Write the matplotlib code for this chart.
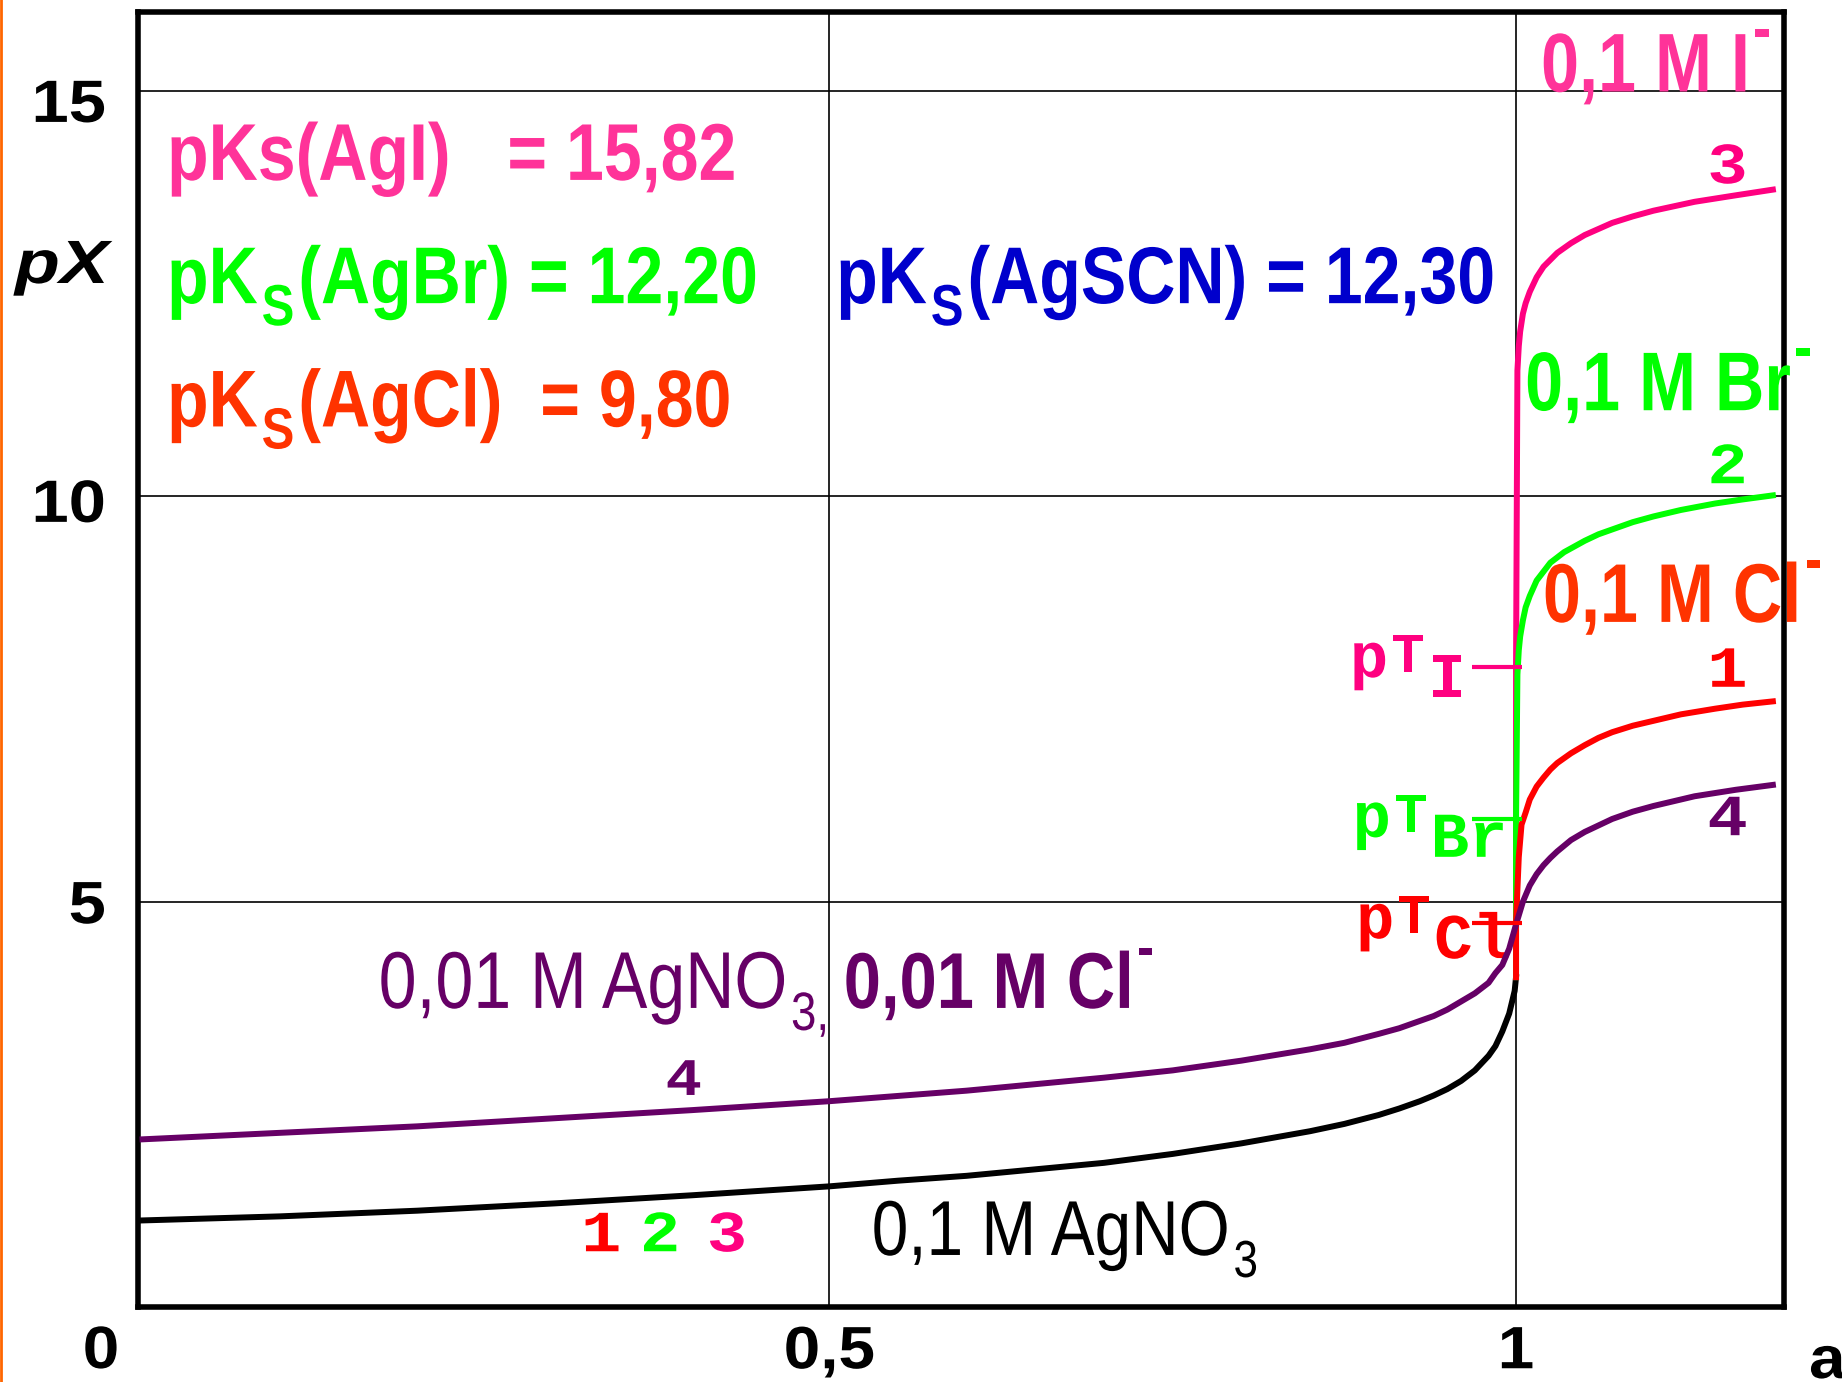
import matplotlib
matplotlib.use("Agg")
import matplotlib.pyplot as plt
from matplotlib.lines import Line2D
from matplotlib.patheffects import AbstractPathEffect
from matplotlib.text import Text
from matplotlib.transforms import Affine2D, Bbox, ScaledTranslation, offset_copy

# titration degree a and pX
a_black = [0.0, 0.1, 0.2, 0.3, 0.4, 0.5, 0.55, 0.6, 0.65, 0.7, 0.75, 0.8, 0.85, 0.875, 0.9, 0.915, 0.93, 0.94,
           0.95, 0.96, 0.97, 0.98, 0.985, 0.99, 0.995, 0.999, 1.0]
pX_black = [1.07, 1.12, 1.19, 1.28, 1.38, 1.49, 1.56, 1.62, 1.70, 1.78, 1.89, 2.02, 2.17, 2.26, 2.37, 2.45, 2.54, 2.61,
            2.69, 2.79, 2.92, 3.10, 3.22, 3.40, 3.62, 3.90, 4.07]

a_purple = [0.0, 0.1, 0.2, 0.3, 0.4, 0.5, 0.6, 0.65, 0.7, 0.75, 0.8, 0.85, 0.875, 0.9, 0.915, 0.93, 0.94, 0.95,
            0.96, 0.97, 0.98, 0.985, 0.99, 0.995, 1.0, 1.005, 1.01, 1.015, 1.02, 1.025, 1.03, 1.04, 1.05, 1.07,
            1.085, 1.1, 1.13, 1.16, 1.187]
pX_purple = [2.07, 2.15, 2.23, 2.33, 2.43, 2.54, 2.67, 2.75, 2.83, 2.92, 3.04, 3.18, 3.26, 3.37, 3.44, 3.53, 3.59, 3.67,
             3.77, 3.87, 4.00, 4.12, 4.22, 4.42, 4.72, 5.00, 5.20, 5.34, 5.45, 5.54, 5.62, 5.76, 5.86, 6.02,
             6.11, 6.18, 6.30, 6.38, 6.44]

a_red = [1.0, 1.0, 1.002, 1.004, 1.007, 1.01, 1.015, 1.02, 1.025, 1.03, 1.04, 1.05, 1.06, 1.07, 1.085, 1.1,
         1.12, 1.145, 1.165, 1.187]
pX_red = [4.07, 4.75, 5.55, 5.95, 6.10, 6.26, 6.42, 6.53, 6.63, 6.71, 6.83, 6.93, 7.02, 7.09, 7.17, 7.23,
          7.31, 7.38, 7.43, 7.47]

a_green = [1.0, 1.0, 1.001, 1.002, 1.003, 1.005, 1.007, 1.01, 1.015, 1.02, 1.025, 1.035, 1.05, 1.06, 1.07,
           1.085, 1.1, 1.12, 1.145, 1.165, 1.187]
pX_green = [4.07, 6.02, 7.80, 8.10, 8.27, 8.47, 8.63, 8.77, 8.96, 9.07, 9.18, 9.31, 9.45, 9.53, 9.59,
            9.68, 9.75, 9.83, 9.91, 9.96, 10.01]

a_pink = [1.0, 1.0, 1.001, 1.002, 1.003, 1.005, 1.007, 1.01, 1.015, 1.02, 1.03, 1.04, 1.05, 1.07, 1.085,
          1.1, 1.13, 1.16, 1.187]
pX_pink = [4.07, 7.89, 11.55, 11.85, 12.03, 12.25, 12.38, 12.52, 12.70, 12.83, 13.00, 13.12, 13.22, 13.37, 13.45,
           13.52, 13.63, 13.71, 13.78]

pT_names = ["I", "Br", "Cl"]
pT_values = [7.89, 6.02, 4.74]

yticks = [5, 10, 15]
ytick_labels = ["5", "10", "15"]
xticks = [0.5, 1.0]
xtick_labels = ["0,5", "1"]

PINK_TXT = "#FF3399"
PINK = "#FF0080"
GREEN = "#00FF00"
RED = "#FF0000"
RED_TXT = "#FF3300"
PURPLE = "#660066"
BLUE = "#0000CC"

SANS = ["Liberation Sans", "DejaVu Sans"]
MONO = ["Liberation Mono", "DejaVu Sans Mono"]
NARROW_X = 0.845  # no narrow face installed: squeeze the regular one


class Squeeze(AbstractPathEffect):
    """Scale the glyph outlines horizontally around the left, centre or right end."""

    def __init__(self, sx, anchor="left"):
        super().__init__()
        self.sx = sx
        self.anchor = anchor

    def draw_path(self, renderer, gc, tpath, affine, rgbFace=None):
        ext = tpath.get_extents()
        xa = {"left": 0.0, "center": (ext.x0 + ext.x1) / 2, "right": ext.x1}[self.anchor]
        pre = Affine2D().translate(-xa, 0).scale(self.sx, 1).translate(xa, 0)
        renderer.draw_path(gc, tpath, pre + affine, rgbFace)


class NarrowText(Text):
    """Text drawn squeezed, reporting the squeezed box."""

    def __init__(self, x, y, s, sx=1.0, anchor="left", **kw):
        super().__init__(x, y, s, **kw)
        self.sx = sx
        self.anchor = anchor
        self.set_path_effects([Squeeze(sx, anchor)])

    def get_window_extent(self, renderer=None, dpi=None):
        bb = super().get_window_extent(renderer, dpi)
        w = bb.width * self.sx
        if self.anchor == "left":
            x0 = bb.x0
        elif self.anchor == "right":
            x0 = bb.x1 - w
        else:
            x0 = (bb.x0 + bb.x1) / 2 - w / 2
        return Bbox.from_bounds(x0, bb.y0, w, bb.height)


W, H = 1842, 1382
fig = plt.figure(figsize=(W / 100, H / 100), dpi=100)
ax = fig.add_axes([137.5 / W, 1 - 1307.2 / H, (1784 - 137.5) / W, (1307.2 - 11.7) / H])
ax.set_xlim(-0.0037, 1.1951)
ax.set_ylim(0, 15.974)

for s in ax.spines.values():
    s.set_linewidth(4)
ax.set_axisbelow(True)
ax.grid(True, color="black", lw=1.2)
ax.set_xticks(xticks, xtick_labels)
ax.set_yticks(yticks, ytick_labels)
ax.tick_params(length=0, labelsize=43)
ax.tick_params(axis="y", pad=23)
ax.tick_params(axis="x", pad=13)
for lab, drop in zip(ax.get_yticklabels(), [0, 3, 7]):
    lab.set_family(SANS)
    lab.set_weight("bold")
    lab.set_path_effects([Squeeze(1.12, "right")])
    lab.set_transform(lab.get_transform() + ScaledTranslation(0, -drop / 72, fig.dpi_scale_trans))
for lab in ax.get_xticklabels():
    lab.set_family(SANS)
    lab.set_weight("bold")
    lab.set_path_effects([Squeeze(1.1, "center")])

kw = dict(lw=4.3, solid_joinstyle="round")
ax.plot(a_black, pX_black, color="black", zorder=3, **kw)
ax.plot(a_pink, pX_pink, color=PINK, zorder=3.1, **kw)
ax.plot(a_green, pX_green, color=GREEN, zorder=3.2, **kw)
ax.plot(a_red, pX_red, color=RED, zorder=3.3, **kw)
ax.plot(a_purple, pX_purple, color=PURPLE, zorder=3.4, **kw)

pT_colors = [PINK, GREEN, RED]
ax.hlines(pT_values, 0.968, 1.004, colors=pT_colors, lw=3, zorder=3.5)

renderer = fig.canvas.get_renderer()


def put(x, y, s, host=ax, transform=None, sx=1.0, anchor="left", **kw):
    t = NarrowText(x, y, s, sx=sx, anchor=anchor,
                   transform=transform if transform is not None else host.transData, **kw)
    host.add_artist(t)
    t.set_clip_on(False)
    return t


def rich(x, y, pieces, size, color, family, weight="bold", sx=NARROW_X, gap=4, z=2.8):
    dx = 0.0
    for s, k, dy in pieces:
        tr = offset_copy(ax.transData, fig=fig, x=dx, y=dy, units="dots")
        t = put(x, y, s, transform=tr, sx=sx, ha="left", va="baseline", fontsize=size * k,
                family=family, weight=weight, color=color, zorder=z)
        dx += t.get_window_extent(renderer).width + gap


# solubility products
rich(0.0178, 13.90, [("pKs(AgI)   = 15,82", 1, 0)], 58, PINK_TXT, SANS)
rich(0.0178, 12.38, [("pK", 1, 0), ("S", 0.72, -22), ("(AgBr) = 12,20", 1, 0)], 58, GREEN, SANS)
rich(0.0178, 10.86, [("pK", 1, 0), ("S", 0.72, -22), ("(AgCl)  = 9,80", 1, 0)], 58, RED_TXT, SANS)
rich(0.505, 12.38, [("pK", 1, 0), ("S", 0.72, -22), ("(AgSCN) = 12,30", 1, 0)], 58, BLUE, SANS)

# concentrations
rich(1.0182, 14.99, [("0,1 M I", 1, 0), ("-", 0.8, 41)], 60, PINK_TXT, SANS, sx=0.82, gap=3)
rich(1.0066, 11.06, [("0,1 M Br", 1, 0), ("-", 0.8, 41)], 60, GREEN, SANS, sx=0.82, gap=3)
rich(1.0196, 8.45, [("0,1 M Cl", 1, 0), ("-", 0.8, 41)], 60, RED_TXT, SANS, sx=0.82, gap=3)
rich(0.1719, 3.69, [("0,01 M AgNO", 1, 0), ("3,", 0.67, -22)], 58, PURPLE, SANS, weight="normal")
rich(0.5105, 3.69, [("0,01 M Cl", 1, 0), ("-", 0.8, 40)], 57, PURPLE, SANS, gap=3)
rich(0.5309, 0.644, [("0,1 M AgNO", 1, 0), ("3", 0.67, -22)], 56, "black", SANS, weight="normal")

# end point markers
pT_pos = [(0.879, 7.77), (0.881, 5.80), (0.8835, 4.55)]
for name, (x, y), c in zip(pT_names, pT_pos, pT_colors):
    rich(x, y, [("p", 1, 0), ("T", 0.88, 5), (name, 1, -20)], 46, c, MONO, sx=1.0, gap=3)

# curve numbers
numbers = [(0.334, 0.69, "1", RED, 42), (0.3768, 0.69, "2", GREEN, 42), (0.4255, 0.69, "3", PINK, 42),
           (0.394, 2.617, "4", PURPLE, 38), (1.154, 13.86, "3", PINK, 42), (1.154, 10.16, "2", GREEN, 42),
           (1.154, 7.65, "1", RED, 42), (1.154, 5.82, "4", PURPLE, 42)]
for x, y, s, c, fs in numbers:
    put(x, y, s, sx=1.15, anchor="center", ha="center", va="baseline", family=MONO,
        weight="bold", fontsize=fs, color=c, zorder=2.8)

# axis names and corner labels
put(15 / W, 1 - 283 / H, "pX", host=fig, transform=fig.transFigure, sx=1.2, ha="left",
    va="baseline", fontsize=44, family=SANS, weight="bold", style="italic")
put(101 / W, 1 - 1368 / H, "0", host=fig, transform=fig.transFigure, sx=1.1, anchor="center",
    ha="center", va="baseline", fontsize=43, family=SANS, weight="bold")
put(1809 / W, 1 - 1378 / H, "a", host=fig, transform=fig.transFigure, sx=1.1, ha="left",
    va="baseline", fontsize=43, family=SANS, weight="bold")

fig.add_artist(Line2D([0.0008, 0.0008], [0, 1], color="#FF6600", lw=2))

fig.savefig("out.png", dpi=100)
